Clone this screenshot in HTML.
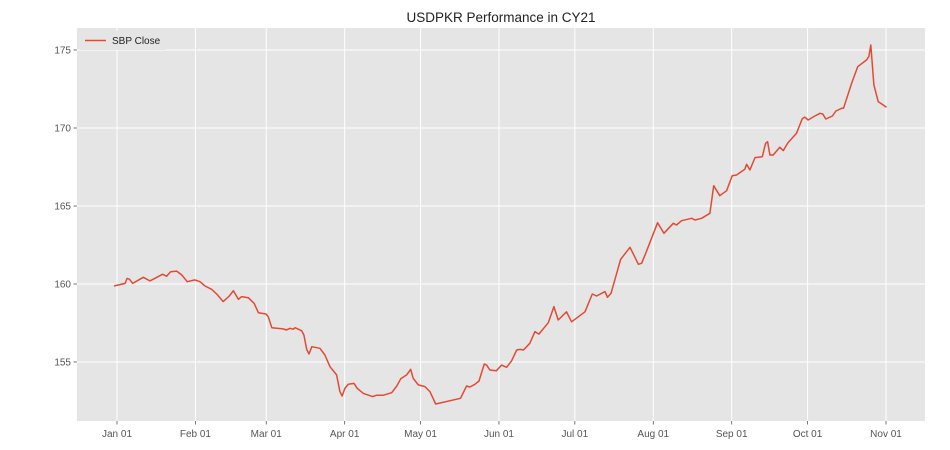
<!DOCTYPE html>
<html><head><meta charset="utf-8"><style>
body{margin:0;background:#fff;}
svg{display:block;font-family:"Liberation Sans","DejaVu Sans",sans-serif;}
</style></head><body>
<svg id="chart" width="950" height="450" viewBox="0 0 950 450">
<text x="501" y="22" text-anchor="middle" font-size="13.5" fill="#222">USDPKR Performance in CY21</text>
<rect x="77" y="28" width="848" height="393" fill="#e5e5e5"/>
<g id="grid"></g>
<g id="axes"></g>
<path id="line" fill="none" stroke="#e24a33" stroke-width="1.5" stroke-linejoin="round"/>
<g>
<rect x="80" y="31" width="86" height="19" fill="#e5e5e5"/>
<line x1="85" y1="40.5" x2="106" y2="40.5" stroke="#e24a33" stroke-width="1.5"/>
<text x="112" y="44" font-size="10" fill="#222">SBP Close</text>
</g>
</svg>
<script>
// data: day of year 2021 (0 = Jan 01) and SBP close values
const days = [-1.2,3.2,4,5,6.2,10.4,13,18,19.6,21.2,23.6,25.6,27.8,30.8,32.8,34.8,37.4,39.4,42,44.4,46,48,49.3,51.9,54.2,55.9,58.9,59.8,61.2,65.7,67,68.4,69.7,70.4,73,73.9,75,75.9,77,80.2,82.2,84.2,86.8,88.1,89,90.1,91.4,93.7,95,97.4,101,102.7,105.3,108.6,110.6,112.2,114.5,116.1,117.1,119.1,121.7,123.7,126,135.8,138.2,139.5,141.5,143.1,145.2,146.1,147.4,150,152,154,156,158,159.3,160.7,163.2,165.2,166.8,170.5,172.7,174.4,177.7,179.7,185,187.9,189.6,192.9,193.9,195.3,199.1,202.8,206.1,207.4,209,213.7,216.2,219.9,221.2,223.2,227.2,228.5,231.1,234.4,235.9,238.3,241,243.2,244.9,248.2,248.9,250.2,252.2,255.1,256.4,257.2,258.1,259.4,262,263.4,265.1,268.6,270.9,271.9,273.2,275.9,277.9,279,280.2,282.8,284.2,286.5,287.2,290.4,292.8,296.3,297.2,298,299.2,300.9,304.2];
const values = [159.87,160.04,160.36,160.3,160.04,160.43,160.2,160.62,160.5,160.79,160.83,160.58,160.15,160.26,160.15,159.87,159.66,159.36,158.87,159.23,159.57,159.02,159.19,159.12,158.76,158.16,158.08,157.9,157.2,157.12,157.05,157.16,157.1,157.2,157.0,156.73,155.81,155.51,155.98,155.88,155.45,154.7,154.17,153.1,152.82,153.31,153.57,153.63,153.31,152.99,152.78,152.87,152.87,153.03,153.46,153.93,154.17,154.53,153.95,153.53,153.42,153.1,152.31,152.67,153.46,153.4,153.57,153.78,154.87,154.8,154.49,154.44,154.8,154.66,155.08,155.77,155.81,155.77,156.2,156.94,156.79,157.52,158.55,157.69,158.22,157.58,158.22,159.36,159.23,159.51,159.15,159.4,161.58,162.35,161.26,161.33,161.97,163.93,163.25,163.89,163.78,164.06,164.21,164.1,164.21,164.53,166.3,165.66,165.98,166.94,166.99,167.35,167.67,167.31,168.1,168.16,169.02,169.12,168.27,168.27,168.76,168.55,169.02,169.66,170.6,170.69,170.51,170.77,170.94,170.9,170.58,170.77,171.09,171.26,171.26,172.86,173.93,174.36,174.57,175.32,172.76,171.69,171.33];
const monthDays = [0,31,59,90,120,151,181,212,243,273,304];
const monthLabels = ["Jan 01","Feb 01","Mar 01","Apr 01","May 01","Jun 01","Jul 01","Aug 01","Sep 01","Oct 01","Nov 01"];
const yTicks = [155,160,165,170,175];

const NS="http://www.w3.org/2000/svg";
const X0=77,X1=925,Y0=28,Y1=421;
const xScale=d=>117+d*(886-117)/304;
const yScale=v=>284-(v-160)*15.6;
const grid=document.getElementById('grid'),axes=document.getElementById('axes');
function mk(tag,attrs,parent){const e=document.createElementNS(NS,tag);for(const k in attrs)e.setAttribute(k,attrs[k]);parent.appendChild(e);return e;}
monthDays.forEach((d,i)=>{
  const x=xScale(d);
  const g=mk('line',{x1:x,x2:x,y1:Y0,y2:Y1,stroke:'#fff','stroke-width':1},grid);
  
  
  const tk=mk('line',{x1:x,x2:x,y1:Y1,y2:Y1+3.5,stroke:'#555','stroke-width':0.8},axes);
  
  
  const t=mk('text',{x:x,y:437,'text-anchor':'middle','font-size':10,fill:'#555'},axes);
  t.textContent=monthLabels[i];
  
  
});
yTicks.forEach(v=>{
  const y=yScale(v);
  const g=mk('line',{x1:X0,x2:X1,y1:y,y2:y,stroke:'#fff','stroke-width':1},grid);
  
  
  const tk=mk('line',{x1:X0-3.5,x2:X0,y1:y,y2:y,stroke:'#555','stroke-width':0.8},axes);
  
  
  const t=mk('text',{x:X0-6,y:y+3.5,'text-anchor':'end','font-size':10,fill:'#555'},axes);
  t.textContent=v;
  
  
});
document.getElementById('line').setAttribute('d',days.map((d,i)=>(i?'L':'M')+xScale(d).toFixed(1)+','+yScale(values[i]).toFixed(1)).join(''));
</script>
</body></html>
